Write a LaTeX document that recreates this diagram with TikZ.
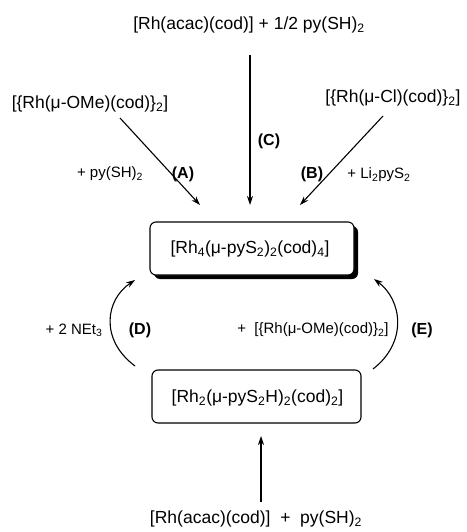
\documentclass[tikz,border=0pt]{standalone}
\usepackage{fontspec}
\setmainfont{Liberation Sans}
\usetikzlibrary{arrows.meta}
\newcommand{\sub}[1]{\textsubscript{#1}}
\begin{document}
\begin{tikzpicture}[x=1pt,y=1pt,
  big/.style={font=\fontsize{17.5}{20}\selectfont, inner sep=0pt},
  lab/.style={font=\fontsize{15}{18}\selectfont, inner sep=0pt},
  tag/.style={font=\fontsize{16}{18}\selectfont\bfseries, inner sep=0pt},
  arr/.style={line width=1.1pt, -{Stealth[length=9pt,width=6pt]}},
  boxA/.style={draw, line width=1.1pt, rounded corners=6pt, fill=white, minimum width=204pt, minimum height=53pt, inner sep=0pt},
  boxB/.style={draw, line width=1.1pt, rounded corners=6pt, fill=white, minimum width=209pt, minimum height=53pt, inner sep=0pt}]
\useasboundingbox (0,0) rectangle (466,-532);

\node[big] (top) at (249,-25) {[Rh(acac)(cod)] + 1/2 py(SH)\sub{2}};
\node[big] (tl) at (90,-104) {[\{Rh(μ-OMe)(cod)\}\sub{2}]};
\node[big] (tr) at (393,-98) {[\{Rh(μ-Cl)(cod)\}\sub{2}]};

\coordinate (aS) at (120,-118);
\coordinate (aE) at (200,-205);
\coordinate (cS) at (250,-55);
\coordinate (cE) at (250,-205);
\coordinate (bS) at (383,-116);
\coordinate (bE) at (300,-205);
\draw[arr] (aS) -- (aE);
\draw[arr] (cS) -- (cE);
\draw[arr] (bS) -- (bE);

\node[lab] (la) at (110,-174) {+ py(SH)\sub{2}};
\node[tag] (ta) at (183,-174) {(A)};
\node[tag] (tc) at (269,-141) {(C)};
\node[tag] (tb) at (312,-174) {(B)};
\node[lab] (lb) at (379,-175) {+ Li\sub{2}pyS\sub{2}};

% main box with shadow
\fill[rounded corners=6pt] (154,-226) rectangle (358,-279);
\node[boxA] (main) at (252,-248.5) {};
\node[big] (maint) at (250,-249) {[Rh\sub{4}(μ-pyS\sub{2})\sub{2}(cod)\sub{4}]};

\node[boxB] (low) at (256.5,-396.5) {};
\node[big] (lowt) at (257.5,-398) {[Rh\sub{2}(μ-pyS\sub{2}H)\sub{2}(cod)\sub{2}]};

\coordinate (dS) at (135,-366);
\coordinate (dE) at (135,-280);
\coordinate (eS) at (373,-369);
\coordinate (eE) at (374,-279);
\draw[arr] (dS) .. controls (100,-340) and (105,-300) .. (dE);
\draw[arr] (eS) .. controls (408,-342) and (402,-300) .. (eE);

\node[lab] (ld) at (74,-330) {+ 2 NEt\sub{3}};
\node[tag] (td) at (140,-330) {(D)};
\node[lab] (le) at (313,-330) {+ \ [\{Rh(μ-OMe)(cod)\}\sub{2}]};
\node[tag] (te) at (422,-330) {(E)};

\coordinate (fS) at (261,-502);
\coordinate (fE) at (261,-436);
\draw[arr] (fS) -- (fE);
\node[big] (bot) at (256,-519) {[Rh(acac)(cod)] \ + \ py(SH)\sub{2}};
\end{tikzpicture}
\end{document}
